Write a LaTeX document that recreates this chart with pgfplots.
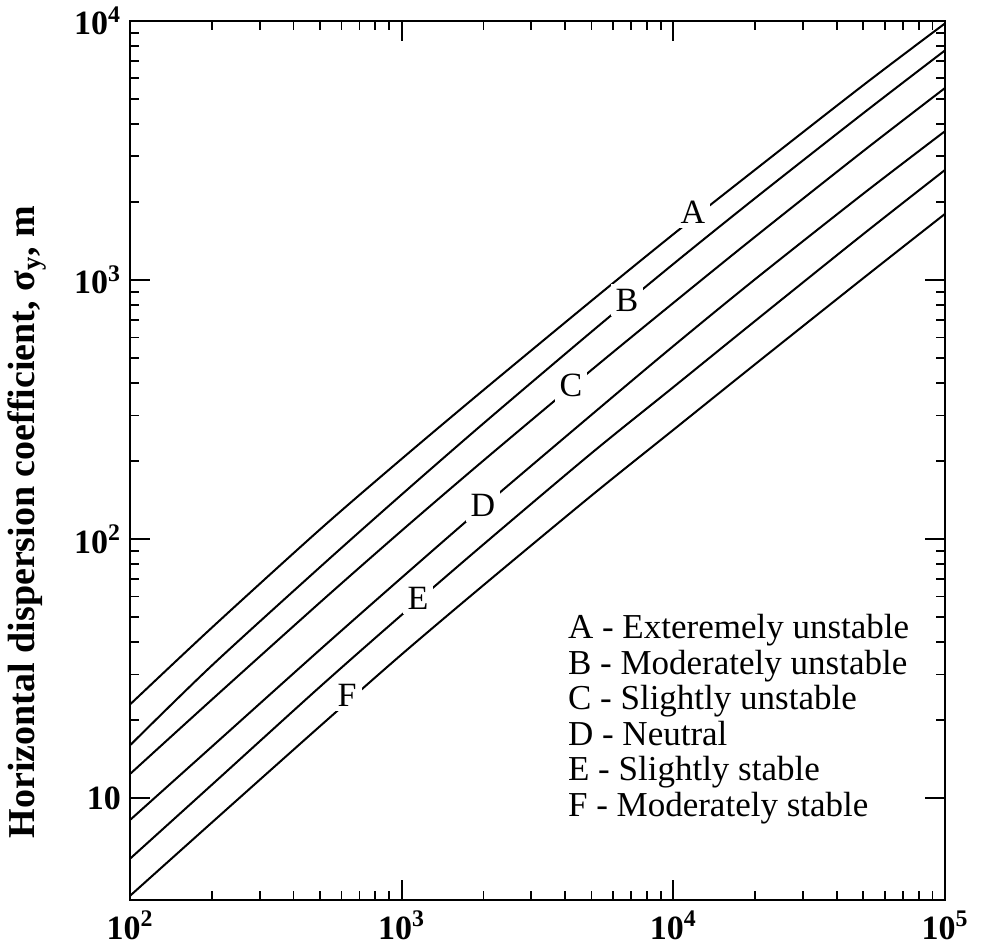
\documentclass[border=0pt]{standalone}
\usepackage{fontspec}
\setmainfont{Liberation Serif}
\usepackage{pgfplots}
\pgfplotsset{compat=1.18}

\begin{document}
\begin{tikzpicture}
\begin{axis}[
    scale only axis,
    width=407.5pt, height=439.5pt,
    xmode=log, ymode=log,
    xmin=100, xmax=100000,
    ymin=4.05, ymax=10000,
    xtick={100,1000,10000,100000},
    xticklabels={10\textsuperscript{2},10\textsuperscript{3},10\textsuperscript{4},10\textsuperscript{5}},
    ytick={10,100,1000,10000},
    yticklabels={10,10\textsuperscript{2},10\textsuperscript{3},10\textsuperscript{4}},
    tick align=inside,
    major tick length=10pt,
    minor tick length=4.5pt,
    every tick/.style={black, line width=0.9pt},
    axis line style={line width=1.2pt},
    ticklabel style={font=\fontsize{17}{17}\selectfont\bfseries},
    xticklabel style={yshift=-2pt},
    yticklabel style={xshift=-1pt},
    ylabel={Horizontal dispersion coefficient, σ\textsubscript{y}, m},
    ylabel style={font=\fontsize{19}{19}\selectfont\bfseries,
        at={(axis description cs:-0.1265,0.43)}, anchor=center},
    clip=true,
]
% A
\addplot[black, line width=1pt, smooth] coordinates {
    (100,23) (200,45.5) (500,108.9) (1000,204) (2000,376) (5000,832)
    (10000,1502) (20000,2665) (50000,5647) (100000,9784)};
% B
\addplot[black, line width=1pt, smooth] coordinates {
    (100,16) (200,32.5) (500,77.9) (1000,148.6) (2000,279.6) (5000,631.7)
    (10000,1153) (20000,2069) (50000,4402) (100000,7695)};
% C
\addplot[black, line width=1pt, smooth] coordinates {
    (100,12.4) (200,24) (500,56.9) (1000,107.8) (2000,201) (5000,449.8)
    (10000,816) (20000,1469) (50000,3144) (100000,5508)};
% D
\addplot[black, line width=1pt, smooth] coordinates {
    (100,8.24) (200,15.8) (500,37.4) (1000,71) (2000,133.6) (5000,302)
    (10000,556) (20000,1007) (50000,2152) (100000,3754)};
% E
\addplot[black, line width=1pt, smooth] coordinates {
    (100,5.84) (200,11.26) (500,26.9) (1000,51) (2000,95.4) (5000,214.7)
    (10000,386) (20000,695) (50000,1503) (100000,2659)};
% F
\addplot[black, line width=1pt, smooth] coordinates {
    (100,4.2) (200,8.05) (500,18.95) (1000,35.9) (2000,66.4) (5000,147.3)
    (10000,264) (20000,473) (50000,1016) (100000,1800)};

% curve labels
\tikzset{lbl/.style={fill=white, inner sep=2.5pt, font=\fontsize{17}{17}\selectfont}}
\node[lbl] at (axis cs:11800,1830) {A};
\node[lbl] at (axis cs:6750,837) {B};
\node[lbl] at (axis cs:4200,393) {C};
\node[lbl] at (axis cs:1990,135) {D};
\node[lbl] at (axis cs:1148,59.2) {E};
\node[lbl] at (axis cs:630,25) {F};

\node[anchor=north west, align=left, inner sep=0pt,
      font=\fontsize{17.5}{17.75}\selectfont]
    at (axis description cs:0.537,0.325) {%
    A - Exteremely unstable\\
    B - Moderately unstable\\
    C - Slightly unstable\\
    D - Neutral\\
    E - Slightly stable\\
    F - Moderately stable};
\end{axis}
\path (current axis.south west) ++(-65pt,-24.5pt);
\path (current axis.north east) ++(24pt,9.5pt);
\end{tikzpicture}
\end{document}
